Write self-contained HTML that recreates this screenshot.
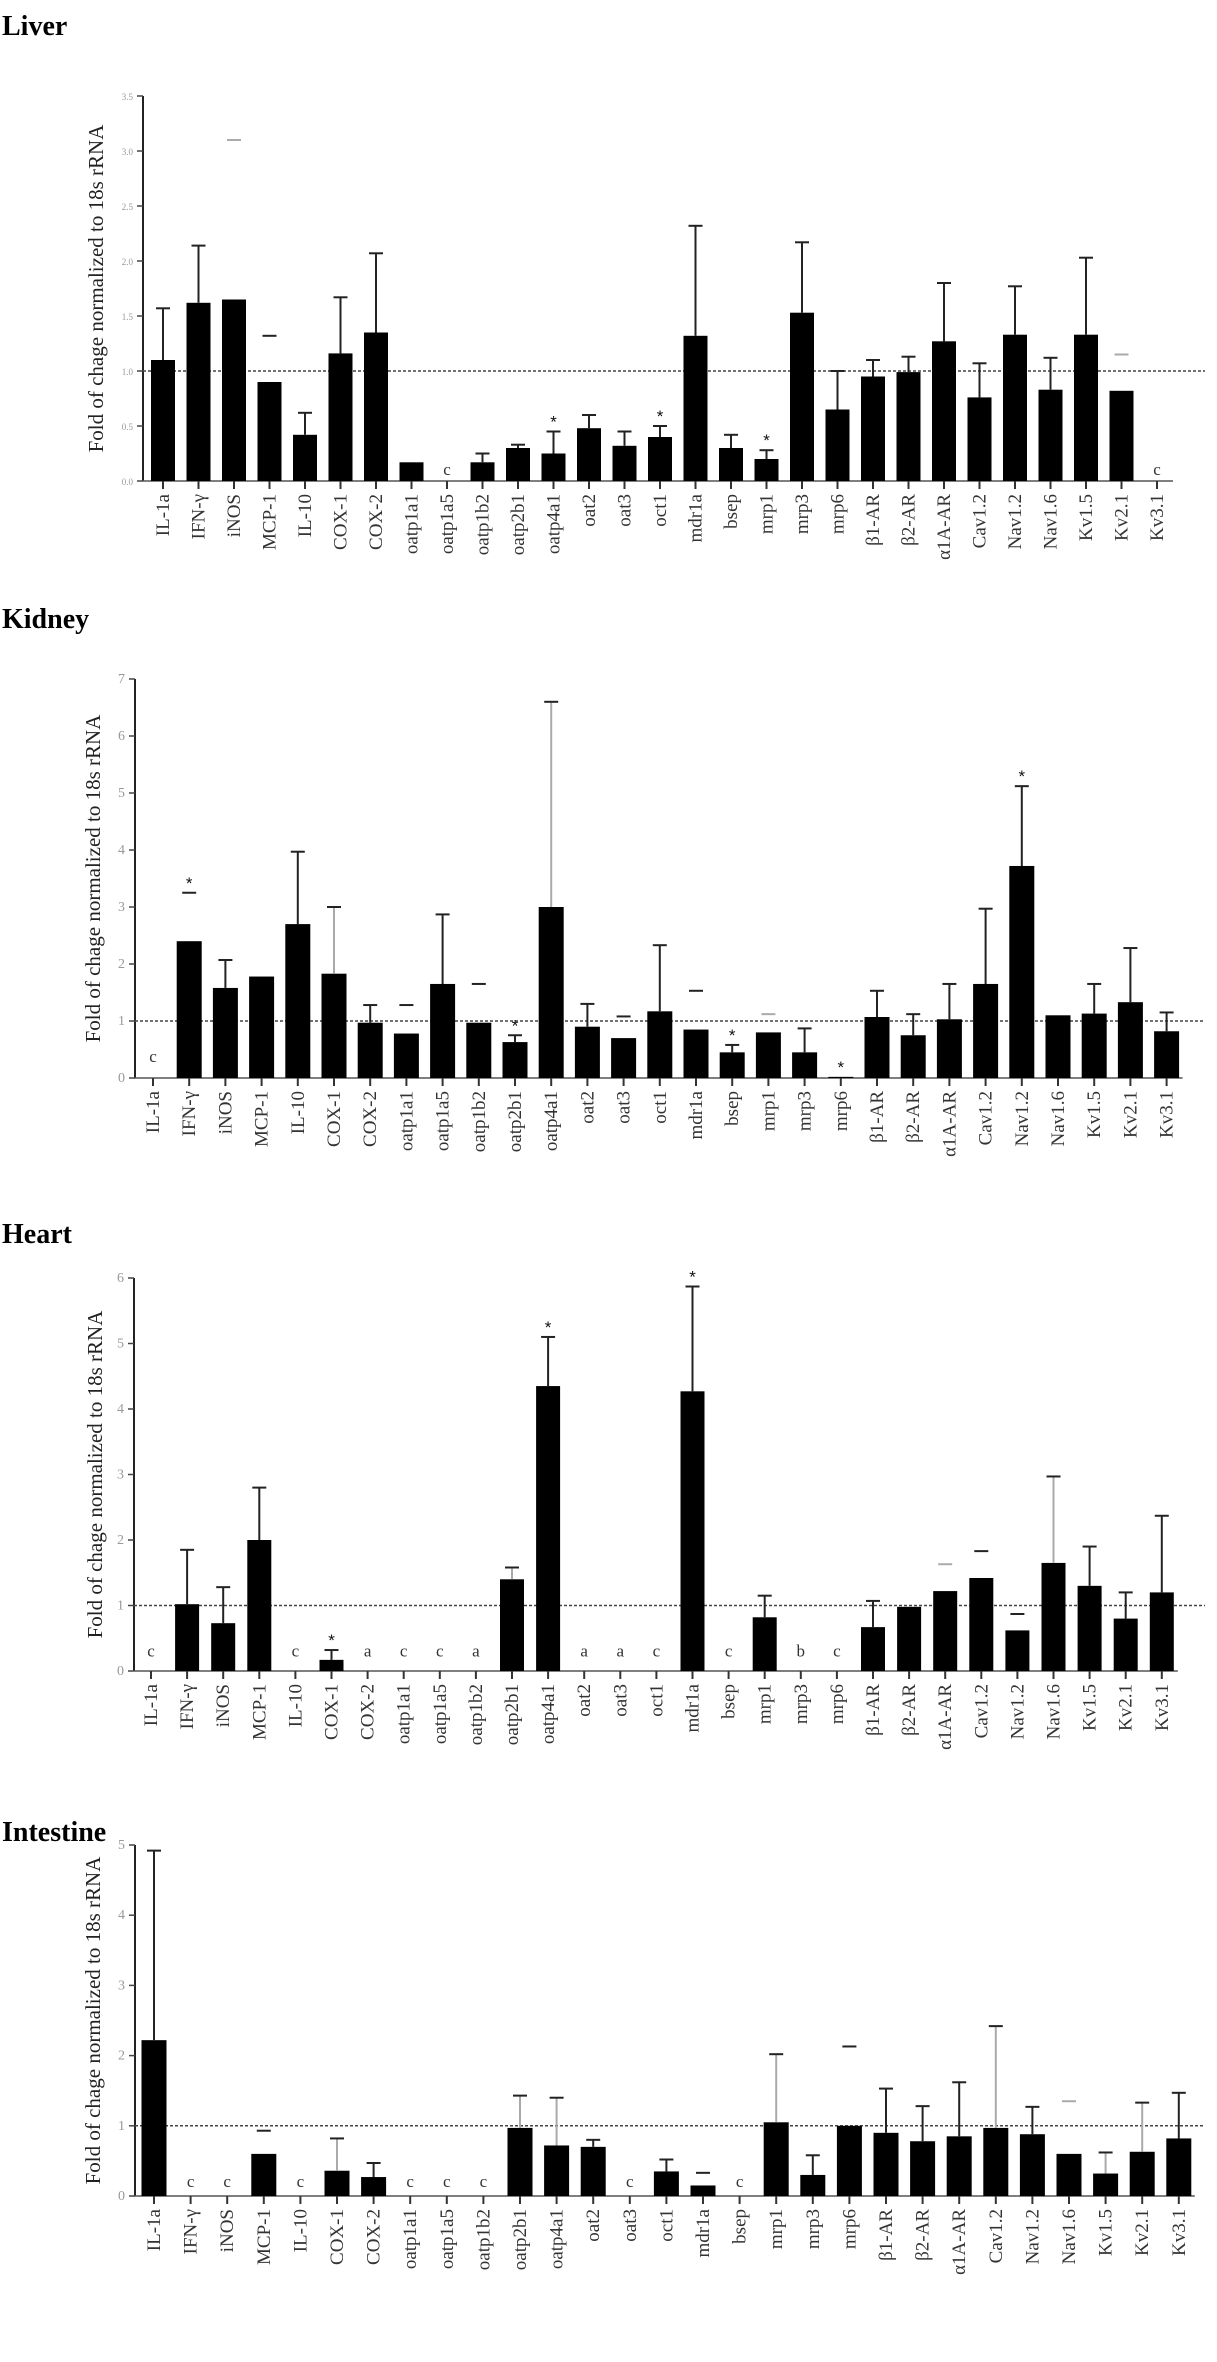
<!DOCTYPE html>
<html><head><meta charset="utf-8"><style>
html,body{margin:0;padding:0;background:#fff;}
svg{display:block;}
</style></head><body>
<svg id="s" xmlns="http://www.w3.org/2000/svg" width="1217" height="2362" viewBox="0 0 1217 2362">
<rect width="1217" height="2362" fill="#fff"/>
</svg>
<script>
const L=["IL-1a","IFN-γ","iNOS","MCP-1","IL-10","COX-1","COX-2","oatp1a1","oatp1a5","oatp1b2","oatp2b1","oatp4a1","oat2","oat3","oct1","mdr1a","bsep","mrp1","mrp3","mrp6","β1-AR","β2-AR","α1A-AR","Cav1.2","Nav1.2","Nav1.6","Kv1.5","Kv2.1","Kv3.1"];
const charts=[
{title:"Liver",ty:26,ax:143,base:481,ppu:110,max:3.5,step:0.5,x0:163,sp:35.5,bw:24,ylab:96,lety:0.1,fmt:1,
 d:[[1.1,1.57,'e'],[1.62,2.14,'e'],[1.65,3.1,'dg'],[0.9,1.32,'d'],[0.42,0.62,'e'],[1.16,1.67,'e'],[1.35,2.07,'e'],[0.17],['c'],[0.17,0.25,'e'],[0.3,0.33,'e'],[0.25,0.45,'e',1],[0.48,0.6,'e'],[0.32,0.45,'e'],[0.4,0.5,'e',1],[1.32,2.32,'e'],[0.3,0.42,'e'],[0.2,0.28,'e',1],[1.53,2.17,'e'],[0.65,1.0,'e'],[0.95,1.1,'e'],[0.99,1.13,'e'],[1.27,1.8,'e'],[0.76,1.07,'e'],[1.33,1.77,'e'],[0.83,1.12,'e'],[1.33,2.03,'e'],[0.82,1.15,'dg'],['c']]},
{title:"Kidney",ty:619,ax:135,base:1078,ppu:57,max:7,step:1,x0:153,sp:36.2,bw:25,ylab:93,lety:0.37,fmt:0,
 d:[['c'],[2.4,3.25,'d',1],[1.58,2.07,'e'],[1.78],[2.7,3.97,'e'],[1.83,3.0,'g'],[0.97,1.28,'e'],[0.78,1.28,'d'],[1.65,2.87,'e'],[0.97,1.65,'d'],[0.63,0.75,'e',1],[3.0,6.6,'g'],[0.9,1.3,'e'],[0.7,1.08,'d'],[1.17,2.33,'e'],[0.85,1.53,'d'],[0.45,0.58,'e',1],[0.8,1.12,'dg'],[0.45,0.87,'e'],[0.02,null,null,1],[1.07,1.53,'e'],[0.75,1.12,'e'],[1.03,1.65,'e'],[1.65,2.97,'e'],[3.72,5.12,'e',1],[1.1],[1.13,1.65,'e'],[1.33,2.28,'e'],[0.82,1.15,'e']]},
{title:"Heart",ty:1234,ax:134,base:1671,ppu:65.5,max:6,step:1,x0:151,sp:36.1,bw:24,ylab:95,lety:0.3,fmt:0,
 d:[['c'],[1.02,1.85,'e'],[0.73,1.28,'e'],[2.0,2.8,'e'],['c'],[0.17,0.32,'e',1],['a'],['c'],['c'],['a'],[1.4,1.58,'g'],[4.35,5.1,'e',1],['a'],['a'],['c'],[4.27,5.87,'e',1],['c'],[0.82,1.15,'e'],['b'],['c'],[0.67,1.07,'e'],[0.98],[1.22,1.63,'dg'],[1.42,1.83,'d'],[0.62,0.87,'d'],[1.65,2.97,'g'],[1.3,1.9,'e'],[0.8,1.2,'e'],[1.2,2.37,'e']]},
{title:"Intestine",ty:1832,ax:135,base:2196,ppu:70.2,max:5,step:1,x0:154,sp:36.6,bw:25,ylab:93,lety:0.2,fmt:0,
 d:[[2.22,4.92,'e'],['c'],['c'],[0.6,0.93,'d'],['c'],[0.36,0.82,'g'],[0.27,0.47,'e'],['c'],['c'],['c'],[0.97,1.43,'g'],[0.72,1.4,'g'],[0.7,0.8,'e'],['c'],[0.35,0.52,'e'],[0.15,0.33,'d'],['c'],[1.05,2.02,'g'],[0.3,0.58,'e'],[1.0,2.13,'d'],[0.9,1.53,'e'],[0.78,1.28,'e'],[0.85,1.62,'e'],[0.97,2.42,'g'],[0.88,1.27,'e'],[0.6,1.35,'dg'],[0.32,0.62,'g'],[0.63,1.33,'g'],[0.82,1.47,'e']]}
];
let h='';
const F='font-family="Liberation Serif, serif"';
for(const c of charts){
 const top=c.base-c.max*c.ppu, Y=v=>c.base-v*c.ppu;
 h+=`<text x="2" y="${c.ty+9}" ${F} font-weight="bold" font-size="28" fill="#000">${c.title}</text>`;
 h+=`<text transform="translate(${c.ylab+7},${(top+c.base)/2}) rotate(-90)" text-anchor="middle" ${F} font-size="21" fill="#222">Fold of chage normalized to 18s rRNA</text>`;
 h+=`<line x1="${c.ax}" y1="${top}" x2="${c.ax}" y2="${c.base}" stroke="#222" stroke-width="2"/>`;
 h+=`<line x1="${c.ax}" y1="${c.base}" x2="${c.x0+28*c.sp+16}" y2="${c.base}" stroke="#555" stroke-width="1.5"/>`;
 for(let v=0;v<=c.max+1e-6;v+=c.step){
  const y=Y(v);
  h+=`<line x1="${c.ax-6}" y1="${y}" x2="${c.ax}" y2="${y}" stroke="#444" stroke-width="1.5"/>`;
  h+=`<text x="${c.ax-10}" y="${y+4}" text-anchor="end" ${F} font-size="${c.fmt?9:14}" fill="#999">${c.fmt?v.toFixed(1):v}</text>`;
 }
 h+=`<line x1="${c.ax}" y1="${Y(1)}" x2="1205" y2="${Y(1)}" stroke="#444" stroke-width="1.5" stroke-dasharray="3,2"/>`;
 c.d.forEach((e,i)=>{
  const x=c.x0+i*c.sp;
  h+=`<line x1="${x}" y1="${c.base}" x2="${x}" y2="${c.base+8}" stroke="#333" stroke-width="2"/>`;
  h+=`<text transform="translate(${x+6},${c.base+13}) rotate(-90)" text-anchor="end" ${F} font-size="19" fill="#333">${L[i]}</text>`;
  if(typeof e[0]==='string'){
   h+=`<text x="${x}" y="${Y(c.lety)+5}" text-anchor="middle" ${F} font-size="17" fill="#333">${e[0]}</text>`;return;
  }
  const v=e[0],et=e[1],t=e[2];
  h+=`<rect x="${x-c.bw/2}" y="${Y(v)}" width="${c.bw}" height="${v*c.ppu}" fill="#000"/>`;
  let sy=Y(v);
  if(et!=null){
   const yt=Y(et); sy=yt;
   const col=(t==='g'||t==='dg')?'#aaa':'#222';
   if(t==='e'||t==='g') h+=`<line x1="${x}" y1="${Y(v)}" x2="${x}" y2="${yt}" stroke="${col}" stroke-width="2"/>`;
   h+=`<line x1="${x-7}" y1="${yt}" x2="${x+7}" y2="${yt}" stroke="${t==='dg'?'#aaa':'#222'}" stroke-width="2"/>`;
  }
  if(e[3]) h+=`<text x="${x}" y="${sy-4}" text-anchor="middle" font-family="Liberation Sans, sans-serif" font-size="17" fill="#111">*</text>`;
 });
}
document.getElementById('s').insertAdjacentHTML('beforeend',h);
</script>
</body></html>
